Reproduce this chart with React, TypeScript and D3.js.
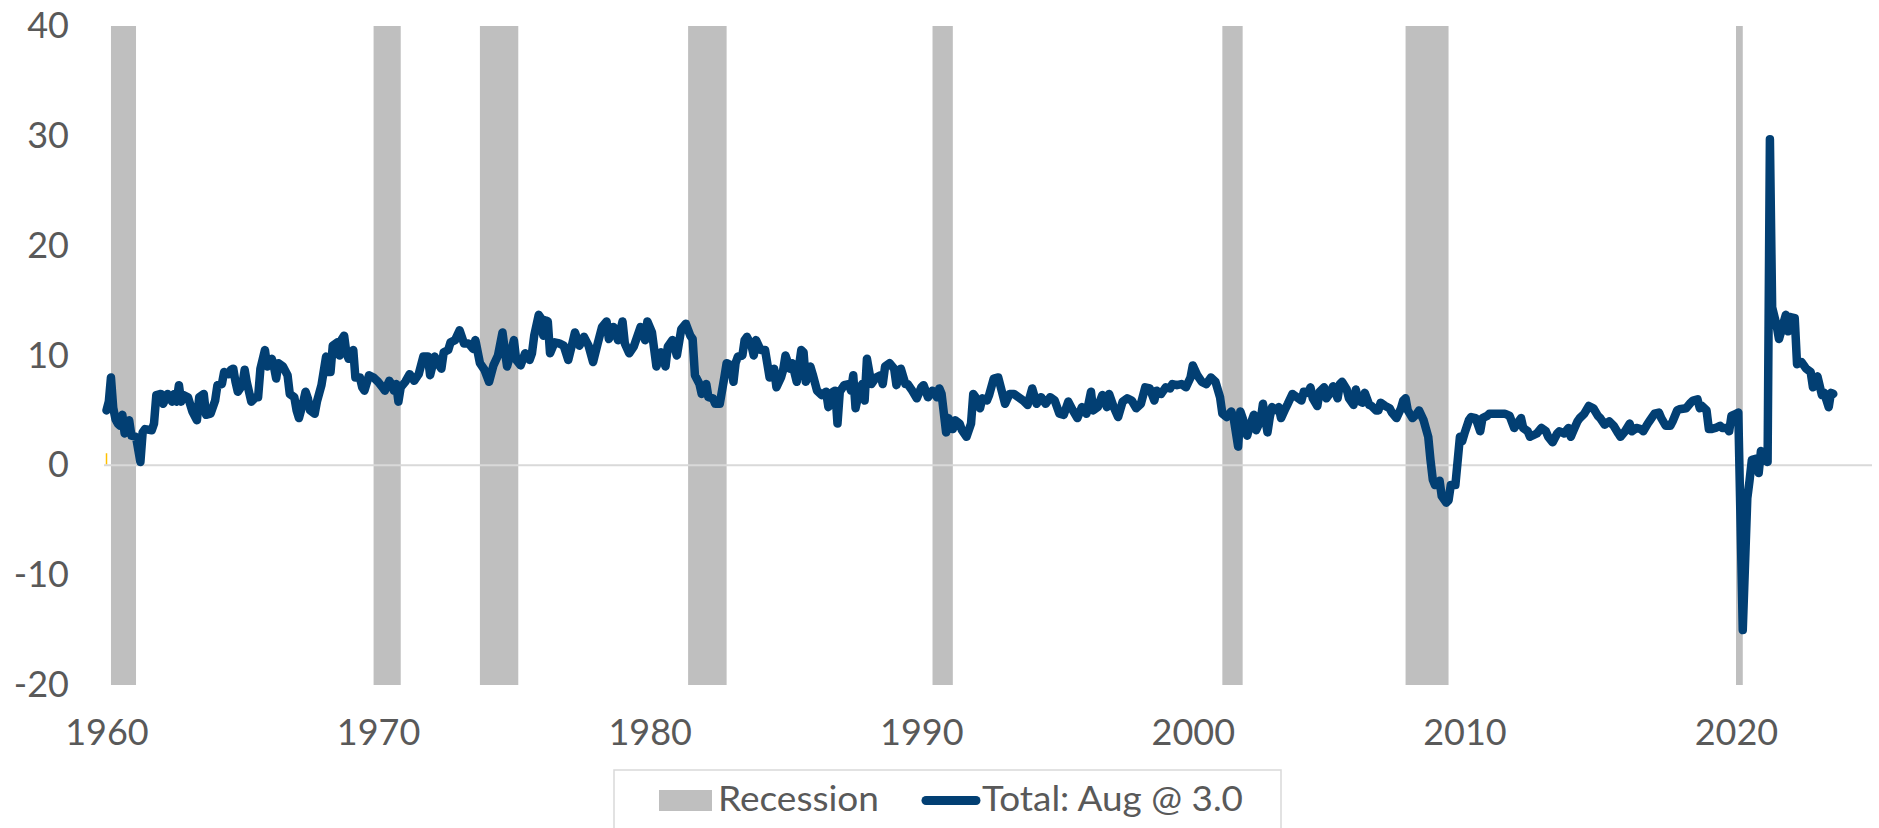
import React, { useEffect, useRef } from "react";
import * as d3 from "d3";

type Point = [string, number];

// Total retail sales, y/y % (month, value)
const sales1960s: Point[] = [
  ["1960-01", 5.0], ["1960-02", 5.8], ["1960-03", 8.0], ["1960-04", 5.2], ["1960-05", 4.2], ["1960-06", 3.8],
  ["1960-07", 3.6], ["1960-08", 4.6], ["1960-09", 2.9], ["1960-11", 4.1], ["1960-12", 2.7], ["1961-02", 2.6],
  ["1961-04", 0.3], ["1961-05", 3.0], ["1961-06", 3.3], ["1961-09", 3.2], ["1961-10", 3.8], ["1961-11", 6.4],
  ["1962-01", 6.5], ["1962-02", 5.6], ["1962-04", 6.5], ["1962-06", 5.8], ["1962-07", 6.5], ["1962-08", 5.8],
  ["1962-09", 7.3], ["1962-10", 5.8], ["1962-11", 6.4], ["1963-01", 6.2], ["1963-03", 4.9], ["1963-05", 4.1],
  ["1963-06", 6.2], ["1963-08", 6.5], ["1963-09", 4.6], ["1963-11", 4.7], ["1964-01", 5.9], ["1964-02", 7.3],
  ["1964-04", 7.4], ["1964-05", 8.5], ["1964-07", 8.3], ["1964-08", 8.7], ["1964-09", 8.8], ["1964-10", 7.6],
  ["1964-11", 6.7], ["1965-01", 7.3], ["1965-02", 8.7], ["1965-03", 7.6], ["1965-05", 5.8], ["1965-07", 6.2],
  ["1965-08", 6.2], ["1965-09", 8.8], ["1965-11", 10.5], ["1965-12", 9.0], ["1966-02", 9.7], ["1966-03", 9.0],
  ["1966-04", 7.9], ["1966-05", 9.3], ["1966-07", 9.0], ["1966-09", 8.2], ["1966-10", 6.5], ["1966-12", 6.2],
  ["1967-01", 5.0], ["1967-02", 4.3], ["1967-04", 5.8], ["1967-05", 6.7], ["1967-06", 6.1], ["1967-07", 5.0],
  ["1967-09", 4.7], ["1967-10", 5.8], ["1967-12", 7.3], ["1968-02", 9.9], ["1968-03", 8.5], ["1968-04", 8.5],
  ["1968-05", 10.9], ["1968-07", 11.2], ["1968-08", 10.0], ["1968-09", 11.5], ["1968-10", 11.8], ["1968-11", 10.2],
  ["1968-12", 9.7], ["1969-02", 10.5], ["1969-03", 8.0], ["1969-05", 8.0], ["1969-06", 7.1], ["1969-07", 6.8],
  ["1969-09", 8.2], ["1969-11", 8.0],
];

const sales1970s: Point[] = [
  ["1970-01", 7.6], ["1970-03", 7.1], ["1970-04", 6.8], ["1970-06", 7.7], ["1970-07", 7.4], ["1970-08", 6.8],
  ["1970-09", 7.4], ["1970-10", 5.8], ["1970-11", 7.1], ["1971-01", 7.6], ["1971-03", 8.3], ["1971-05", 7.7],
  ["1971-07", 8.3], ["1971-09", 9.9], ["1971-11", 9.9], ["1971-12", 8.2], ["1972-02", 9.9], ["1972-04", 9.1],
  ["1972-05", 8.8], ["1972-06", 10.3], ["1972-08", 10.5], ["1972-09", 11.2], ["1972-11", 11.4], ["1973-01", 12.3],
  ["1973-03", 11.1], ["1973-05", 11.1], ["1973-07", 10.6], ["1973-08", 11.4], ["1973-10", 9.3], ["1973-12", 8.7],
  ["1974-02", 7.6], ["1974-04", 9.1], ["1974-06", 10.0], ["1974-08", 12.1], ["1974-09", 10.5], ["1974-10", 9.0],
  ["1974-12", 10.5], ["1975-01", 11.4], ["1975-02", 9.6], ["1975-04", 9.1], ["1975-06", 10.2], ["1975-08", 9.6],
  ["1975-09", 10.2], ["1975-10", 11.8], ["1975-12", 13.7], ["1976-01", 13.4], ["1976-02", 11.8], ["1976-03", 13.2],
  ["1976-04", 13.1], ["1976-05", 10.2], ["1976-07", 11.2], ["1976-09", 11.1], ["1976-11", 10.9], ["1977-01", 9.6],
  ["1977-03", 11.2], ["1977-04", 12.1], ["1977-06", 10.9], ["1977-08", 11.7], ["1977-10", 10.9], ["1977-12", 9.4],
  ["1978-02", 11.1], ["1978-04", 12.6], ["1978-06", 13.1], ["1978-07", 11.5], ["1978-09", 12.6], ["1978-11", 11.4],
  ["1979-01", 13.1], ["1979-02", 11.1], ["1979-04", 10.2], ["1979-06", 10.8], ["1979-09", 12.6], ["1979-11", 11.4],
  ["1979-12", 13.1],
];

const sales1980s: Point[] = [
  ["1980-02", 12.1], ["1980-04", 9.0], ["1980-06", 10.3], ["1980-08", 9.0], ["1980-09", 10.8], ["1980-11", 11.4],
  ["1981-01", 10.0], ["1981-03", 12.4], ["1981-05", 12.9], ["1981-07", 11.8], ["1981-08", 11.5], ["1981-09", 8.2],
  ["1981-11", 7.4], ["1981-12", 6.5], ["1982-02", 7.4], ["1982-03", 6.2], ["1982-05", 6.1], ["1982-06", 5.6],
  ["1982-08", 5.6], ["1982-10", 8.0], ["1982-11", 9.3], ["1983-01", 9.1], ["1983-02", 7.6], ["1983-03", 9.3],
  ["1983-04", 9.9], ["1983-06", 10.0], ["1983-07", 11.4], ["1983-08", 11.7], ["1983-10", 10.9], ["1983-11", 10.0],
  ["1983-12", 11.4], ["1984-02", 10.5], ["1984-04", 10.5], ["1984-06", 8.0], ["1984-08", 8.8], ["1984-09", 7.1],
  ["1984-11", 8.0], ["1984-12", 8.7], ["1985-01", 10.0], ["1985-03", 8.8], ["1985-04", 9.3], ["1985-06", 7.6],
  ["1985-08", 10.5], ["1985-09", 10.3], ["1985-10", 7.6], ["1985-12", 9.0], ["1986-01", 8.3], ["1986-03", 6.8],
  ["1986-05", 6.4], ["1986-07", 6.7], ["1986-08", 5.3], ["1986-10", 6.7], ["1986-11", 6.8], ["1986-12", 3.8],
  ["1987-01", 6.7], ["1987-03", 7.3], ["1987-05", 7.4], ["1987-06", 6.8], ["1987-07", 8.2], ["1987-08", 5.2],
  ["1987-10", 7.1], ["1987-11", 7.4], ["1987-12", 5.9], ["1988-01", 9.7], ["1988-03", 7.4], ["1988-05", 8.0],
  ["1988-07", 8.2], ["1988-08", 7.4], ["1988-09", 9.0], ["1988-11", 9.3], ["1989-01", 8.8], ["1989-02", 7.3],
  ["1989-04", 8.8], ["1989-06", 7.4], ["1989-07", 7.4], ["1989-09", 6.8], ["1989-11", 6.1],
];

const sales1990s: Point[] = [
  ["1990-01", 7.1], ["1990-02", 7.3], ["1990-04", 6.2], ["1990-06", 6.8], ["1990-08", 6.2], ["1990-09", 7.0],
  ["1990-10", 6.5], ["1990-12", 3.0], ["1991-01", 4.3], ["1991-03", 3.3], ["1991-04", 4.1], ["1991-06", 3.8],
  ["1991-07", 3.2], ["1991-09", 2.6], ["1991-11", 3.8], ["1991-12", 6.5], ["1992-01", 6.2], ["1992-03", 5.2],
  ["1992-04", 6.1], ["1992-06", 5.9], ["1992-07", 6.4], ["1992-09", 7.9], ["1992-11", 8.0], ["1993-01", 6.4],
  ["1993-02", 5.6], ["1993-04", 6.5], ["1993-06", 6.5], ["1993-08", 6.2], ["1993-10", 5.9], ["1993-12", 5.5],
  ["1994-02", 7.0], ["1994-04", 5.6], ["1994-06", 6.2], ["1994-08", 5.6], ["1994-10", 6.2], ["1994-12", 5.9],
  ["1995-02", 4.7], ["1995-04", 4.6], ["1995-06", 5.8], ["1995-08", 5.0], ["1995-10", 4.3], ["1995-12", 5.3],
  ["1996-02", 4.7], ["1996-04", 6.7], ["1996-05", 5.0], ["1996-07", 5.3], ["1996-09", 6.4], ["1996-11", 5.3],
  ["1996-12", 6.5], ["1997-02", 5.3], ["1997-04", 4.4], ["1997-06", 5.8], ["1997-08", 6.1], ["1997-10", 5.9],
  ["1997-12", 5.2], ["1998-02", 5.6], ["1998-04", 7.1], ["1998-06", 7.0], ["1998-08", 5.9], ["1998-09", 6.8],
  ["1998-11", 6.5], ["1999-01", 7.1], ["1999-03", 7.0], ["1999-04", 7.4], ["1999-06", 7.3], ["1999-08", 7.4],
  ["1999-10", 7.1], ["1999-12", 8.0],
];

const sales2000s: Point[] = [
  ["2000-01", 9.1], ["2000-03", 8.2], ["2000-05", 7.6], ["2000-07", 7.4], ["2000-09", 8.0], ["2000-11", 7.6],
  ["2001-01", 6.2], ["2001-02", 4.7], ["2001-04", 4.4], ["2001-06", 4.9], ["2001-07", 4.4], ["2001-09", 1.7],
  ["2001-10", 4.9], ["2001-11", 4.3], ["2002-01", 2.7], ["2002-02", 3.5], ["2002-04", 4.6], ["2002-05", 3.2],
  ["2002-07", 4.1], ["2002-08", 5.6], ["2002-10", 3.0], ["2002-11", 4.4], ["2002-12", 5.3], ["2003-02", 5.0],
  ["2003-03", 5.3], ["2003-04", 4.3], ["2003-06", 5.2], ["2003-07", 5.6], ["2003-09", 6.5], ["2003-11", 6.2],
  ["2004-01", 5.9], ["2004-02", 6.7], ["2004-04", 6.6], ["2004-05", 7.1], ["2004-06", 6.1], ["2004-08", 5.4],
  ["2004-09", 6.7], ["2004-11", 7.1], ["2004-12", 6.1], ["2005-02", 6.7], ["2005-03", 7.2], ["2005-05", 6.1],
  ["2005-06", 7.4], ["2005-07", 7.6], ["2005-09", 6.9], ["2005-10", 6.1], ["2005-12", 5.5], ["2006-01", 6.9],
  ["2006-02", 5.9], ["2006-04", 5.7], ["2006-05", 6.6], ["2006-07", 5.5], ["2006-08", 5.4], ["2006-10", 5.0],
  ["2006-11", 5.0], ["2006-12", 5.7], ["2007-02", 5.4], ["2007-04", 5.2], ["2007-05", 4.8], ["2007-07", 4.3],
  ["2007-09", 5.2], ["2007-10", 5.9], ["2007-11", 6.1], ["2007-12", 5.0], ["2008-02", 4.3], ["2008-04", 4.7],
  ["2008-05", 5.0], ["2008-07", 4.1], ["2008-09", 2.6], ["2008-10", 0.5], ["2008-11", -1.3], ["2008-12", -1.8],
  ["2009-02", -1.4], ["2009-03", -2.8], ["2009-05", -3.4], ["2009-06", -3.2], ["2009-07", -1.8], ["2009-09", -1.8],
  ["2009-11", 2.6], ["2009-12", 2.2],
];

const sales2010s: Point[] = [
  ["2010-01", 2.9], ["2010-03", 4.1], ["2010-04", 4.4], ["2010-06", 4.3], ["2010-08", 3.1], ["2010-09", 4.3],
  ["2010-11", 4.5], ["2010-12", 4.7], ["2011-02", 4.7], ["2011-04", 4.7], ["2011-07", 4.7], ["2011-09", 4.5],
  ["2011-11", 3.4], ["2012-01", 4.0], ["2012-02", 4.3], ["2012-03", 3.4], ["2012-05", 3.1], ["2012-06", 2.6],
  ["2012-09", 2.9], ["2012-11", 3.4], ["2013-01", 3.1], ["2013-02", 2.6], ["2013-04", 2.1], ["2013-06", 2.9],
  ["2013-07", 3.1], ["2013-09", 2.9], ["2013-11", 3.4], ["2013-12", 2.6], ["2014-01", 3.1], ["2014-03", 4.0],
  ["2014-04", 4.3], ["2014-06", 4.7], ["2014-08", 5.4], ["2014-10", 5.2], ["2014-12", 4.5], ["2015-01", 4.3],
  ["2015-03", 3.7], ["2015-05", 4.0], ["2015-07", 3.6], ["2015-09", 2.9], ["2015-10", 2.6], ["2015-12", 3.1],
  ["2016-02", 3.8], ["2016-03", 3.1], ["2016-05", 3.4], ["2016-07", 3.3], ["2016-08", 3.1], ["2016-10", 3.8],
  ["2016-11", 4.1], ["2017-01", 4.7], ["2017-03", 4.8], ["2017-04", 4.3], ["2017-06", 3.6], ["2017-08", 3.6],
  ["2017-09", 4.0], ["2017-11", 5.0], ["2017-12", 5.1], ["2018-03", 5.2], ["2018-05", 5.7], ["2018-06", 5.9],
  ["2018-08", 6.0], ["2018-09", 5.2], ["2018-10", 5.4], ["2018-12", 5.0], ["2019-01", 3.3], ["2019-02", 3.3],
  ["2019-04", 3.4], ["2019-06", 3.6], ["2019-07", 3.4], ["2019-09", 3.4], ["2019-10", 3.1], ["2019-11", 4.5],
];

const sales2020s: Point[] = [
  ["2020-01", 4.7], ["2020-02", 4.8], ["2020-04", -15.0], ["2020-06", -3.0], ["2020-07", -1.4], ["2020-08", 0.5],
  ["2020-10", 0.6], ["2020-11", -0.7], ["2020-12", 1.3], ["2021-02", 0.5], ["2021-03", 0.3], ["2021-04", 29.7],
  ["2021-05", 14.4], ["2021-07", 12.7], ["2021-08", 11.5], ["2021-11", 13.7], ["2021-12", 12.2], ["2022-01", 13.5],
  ["2022-03", 13.4], ["2022-04", 9.2], ["2022-06", 9.4], ["2022-08", 8.8], ["2022-10", 8.5], ["2022-11", 7.1],
  ["2023-01", 8.1], ["2023-03", 6.4], ["2023-04", 6.6], ["2023-06", 5.3], ["2023-07", 6.6], ["2023-08", 6.5],
];

// NBER peak / trough months shaded in the chart (1980 episode is not shaded in the source)
const recessionPeaks = ["1960-04", "1969-12", "1973-11", "1981-07", "1990-07", "2001-03", "2007-12", "2020-02"];
const recessionTroughs = ["1961-02", "1970-11", "1975-03", "1982-11", "1991-03", "2001-11", "2009-06", "2020-04"];

// tiny yellow stub visible at the chart origin
const markerSeries: Point[] = [["1960-01", 0.1], ["1960-01", 1.1]];

const yTicks = [-20, -10, 0, 10, 20, 30, 40];
const xTickYears = [1960, 1970, 1980, 1990, 2000, 2010, 2020];
const legendLabels = ["Recession", "Total: Aug @ 3.0"];

const WIDTH = 1879;
const HEIGHT = 828;
const FONT = "Lato, 'Noto Sans', sans-serif";
const TEXT = "#595959";
const NAVY = "#023F73";
const SHADE = "#BFBFBF";

const Chart = () => {
  const svgRef = useRef<SVGSVGElement>(null);

  useEffect(() => {
    const svg = d3.select(svgRef.current);
    svg.selectAll("*").remove();

    const parse = d3.timeParse("%Y-%m");
    const x = d3
      .scaleTime()
      .domain([new Date(1960, 0, 1), new Date(2020, 0, 1)])
      .range([106.5, 1736]);
    const y = d3.scaleLinear().domain([-20, 40]).range([685, 26]);

    // Recession shading
    svg
      .append("g")
      .selectAll("rect")
      .data(recessionPeaks.map((p, i) => [p, recessionTroughs[i]]))
      .enter()
      .append("rect")
      .attr("x", (d) => x(d3.timeMonth.offset(parse(d[0])!, -1)))
      .attr("width", (d) => x(parse(d[1])!) - x(d3.timeMonth.offset(parse(d[0])!, -1)))
      .attr("y", y(40))
      .attr("height", y(-20) - y(40))
      .attr("fill", SHADE);

    // zero line
    svg
      .append("line")
      .attr("x1", 104)
      .attr("x2", 1872)
      .attr("y1", y(0))
      .attr("y2", y(0))
      .attr("stroke", "#D9D9D9")
      .attr("stroke-width", 2);

    const line = d3
      .line<Point>()
      .x((d) => x(parse(d[0])!))
      .y((d) => y(d[1]));

    svg
      .append("path")
      .attr("d", line(markerSeries))
      .attr("stroke", "#FFC000")
      .attr("stroke-width", 1.5)
      .attr("fill", "none");

    const series = [
      ...sales1960s,
      ...sales1970s,
      ...sales1980s,
      ...sales1990s,
      ...sales2000s,
      ...sales2010s,
      ...sales2020s,
    ];

    svg
      .append("path")
      .attr("d", line(series))
      .attr("fill", "none")
      .attr("stroke", NAVY)
      .attr("stroke-width", 8.5)
      .attr("stroke-linejoin", "round")
      .attr("stroke-linecap", "round");

    // Axes
    const yAxis = svg
      .append("g")
      .attr("transform", "translate(69,0)")
      .call(
        d3
          .axisLeft(y)
          .tickValues(yTicks)
          .tickFormat((d) => String(d))
          .tickSize(0)
          .tickPadding(0)
      );
    yAxis.select(".domain").remove();

    const xAxis = svg
      .append("g")
      .attr("transform", "translate(0,719.5)")
      .call(
        d3
          .axisBottom(x)
          .tickValues(xTickYears.map((yr) => new Date(yr, 0, 1)))
          .tickFormat((d) => d3.timeFormat("%Y")(d as Date))
          .tickSize(0)
          .tickPadding(0)
      );
    xAxis.select(".domain").remove();

    svg
      .selectAll(".tick text")
      .attr("font-family", FONT)
      .attr("font-size", 36)
      .attr("fill", TEXT);

    // Legend
    const legend = svg.append("g");
    legend
      .append("rect")
      .attr("x", 614)
      .attr("y", 770)
      .attr("width", 667)
      .attr("height", 80)
      .attr("fill", "#fff")
      .attr("stroke", "#D9D9D9")
      .attr("stroke-width", 1.5);
    legend
      .append("rect")
      .attr("x", 659)
      .attr("y", 790)
      .attr("width", 53)
      .attr("height", 21)
      .attr("fill", SHADE);
    legend
      .append("line")
      .attr("x1", 926)
      .attr("x2", 976)
      .attr("y1", 800.5)
      .attr("y2", 800.5)
      .attr("stroke", NAVY)
      .attr("stroke-width", 9)
      .attr("stroke-linecap", "round");
    legend
      .selectAll("text")
      .data(legendLabels)
      .enter()
      .append("text")
      .attr("x", (d, i) => (i === 0 ? 718 : 982))
      .attr("y", 811)
      .attr("font-family", FONT)
      .attr("font-size", 35)
      .attr("textLength", (d, i) => (i === 0 ? 161 : 261))
      .attr("lengthAdjust", "spacingAndGlyphs")
      .attr("fill", TEXT)
      .text((d) => d);
  }, []);

  return <svg ref={svgRef} width={WIDTH} height={HEIGHT} />;
};

export default function App() {
  return (
    <div style={{ position: "absolute", left: 0, top: 0, width: WIDTH, height: HEIGHT, overflow: "hidden", background: "#fff" }}>
      <Chart />
    </div>
  );
}
